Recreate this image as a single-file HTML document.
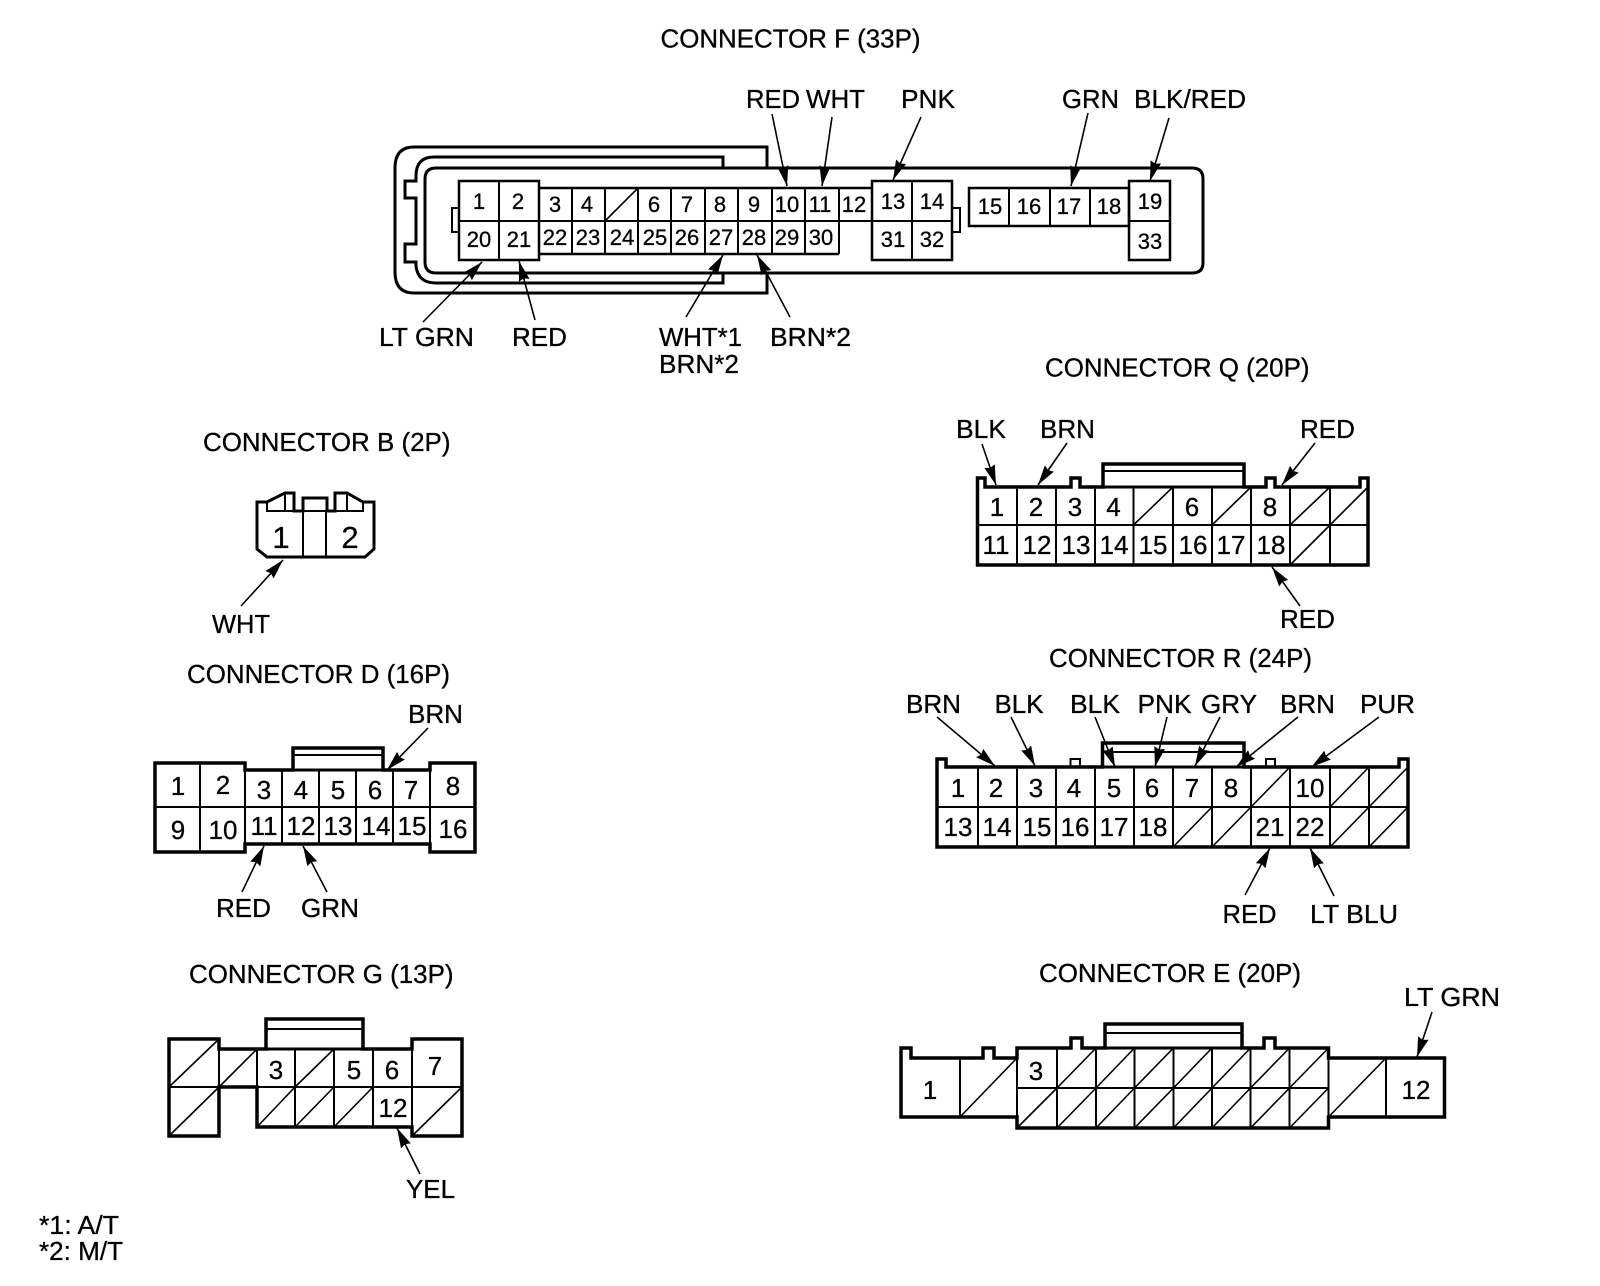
<!DOCTYPE html>
<html><head><meta charset="utf-8"><style>
html,body{margin:0;padding:0;background:#fff}
svg{display:block}
text{font-family:"Liberation Sans",sans-serif;fill:#000;stroke:#000;stroke-width:.3}
.t{font-size:25.5px}
.n{font-size:26px;text-anchor:middle}
.f{font-size:22px;text-anchor:middle}
.o{fill:none;stroke:#000;stroke-width:3.5;stroke-linejoin:miter}
.i{fill:none;stroke:#000;stroke-width:2}
.d{fill:none;stroke:#000;stroke-width:1.6}
.a{fill:none;stroke:#000;stroke-width:1.6;marker-end:url(#ah)}
</style></head><body>
<svg xmlns="http://www.w3.org/2000/svg" width="1600" height="1286" viewBox="0 0 1600 1286">
<defs><marker id="ah" markerUnits="userSpaceOnUse" markerWidth="24" markerHeight="14" refX="20" refY="6" orient="auto"><path d="M0,0.5 L20,6 L0,11.5 L2,6 Z" fill="#000"/></marker></defs>
<rect width="1600" height="1286" fill="#fff"/>

<!-- Titles -->
<text class="t" x="660.5" y="47.5" textLength="260" lengthAdjust="spacingAndGlyphs">CONNECTOR F (33P)</text>
<text class="t" x="1045" y="376.5" textLength="264.5" lengthAdjust="spacingAndGlyphs">CONNECTOR Q (20P)</text>
<text class="t" x="203" y="451" textLength="247.5" lengthAdjust="spacingAndGlyphs">CONNECTOR B (2P)</text>
<text class="t" x="187" y="683" textLength="263" lengthAdjust="spacingAndGlyphs">CONNECTOR D (16P)</text>
<text class="t" x="1049" y="667" textLength="263" lengthAdjust="spacingAndGlyphs">CONNECTOR R (24P)</text>
<text class="t" x="189" y="983" textLength="264.5" lengthAdjust="spacingAndGlyphs">CONNECTOR G (13P)</text>
<text class="t" x="1039" y="982" textLength="262" lengthAdjust="spacingAndGlyphs">CONNECTOR E (20P)</text>

<!-- CONNECTOR F -->
<path class="o" style="stroke-width:3" d="M767,167 V147 H414 Q395,147 395,168 V272 Q395,293 414,293 H767 V274"/>
<path class="o" style="stroke-width:3" d="M723,167 V157 H434 Q416,157 416,176 V181 H405 V198 H416 V244 H405 V262 H416 V266 Q418,283 436,283 H723 V274"/>
<path class="o" style="stroke-width:3" d="M436,168 H1192 Q1203,168 1203,179 V263 Q1203,273 1192,273 H436 Q425,273 425,262 V179 Q425,168 436,168 Z"/>
<path class="i" d="M459,208 H452 V232 H459"/>
<path class="i" d="M952,208 H960 V232 H952"/>
<rect class="i" style="stroke-width:2.5" x="459" y="181" width="80" height="79" fill="#fff"/>
<path class="i" d="M459,221 H872 M499,181 V260 M572,188 V254 M605,188 V254 M638,188 V254 M671,188 V254 M705,188 V254 M738,188 V254 M772,188 V254 M805,188 V254 M839,188 V254"/>
<path class="i" style="stroke-width:2.5" d="M539,188 H872 M539,254 H839"/>
<path class="d" d="M605,221 L638,188"/>
<rect class="i" style="stroke-width:2.5" x="872" y="181" width="80" height="79"/>
<path class="i" d="M872,221 H952 M912,181 V260"/>
<rect class="i" style="stroke-width:2.5" x="969" y="188" width="160" height="38"/>
<path class="i" d="M1009,188 V226 M1050,188 V226 M1090,188 V226"/>
<rect class="i" style="stroke-width:2.5" x="1129" y="181" width="41" height="79"/>
<path class="i" d="M1129,221 H1170"/>

<g class="f">
<text class="f" x="479" y="209">1</text><text class="f" x="518" y="209">2</text>
<text class="f" x="555" y="212">3</text><text class="f" x="587" y="212">4</text>
<text class="f" x="654" y="212">6</text><text class="f" x="687" y="212">7</text>
<text class="f" x="720" y="212">8</text><text class="f" x="754" y="212">9</text>
<text class="f" x="787" y="212">10</text><text class="f" x="820" y="212">11</text>
<text class="f" x="854" y="212">12</text>
<text class="f" x="893" y="209">13</text><text class="f" x="932" y="209">14</text>
<text class="f" x="990" y="214">15</text><text class="f" x="1029" y="214">16</text>
<text class="f" x="1069" y="214">17</text><text class="f" x="1109" y="214">18</text>
<text class="f" x="1150" y="209">19</text>
<text class="f" x="479" y="247">20</text><text class="f" x="519" y="247">21</text>
<text class="f" x="555" y="245">22</text><text class="f" x="588" y="245">23</text>
<text class="f" x="622" y="245">24</text><text class="f" x="655" y="245">25</text>
<text class="f" x="687" y="245">26</text><text class="f" x="721" y="245">27</text>
<text class="f" x="754" y="245">28</text><text class="f" x="787" y="245">29</text>
<text class="f" x="821" y="245">30</text>
<text class="f" x="893" y="247">31</text><text class="f" x="932" y="247">32</text>
<text class="f" x="1150" y="249">33</text>
</g>

<text class="t" x="746" y="108" textLength="54" lengthAdjust="spacingAndGlyphs">RED</text>
<text class="t" x="806" y="108" textLength="59" lengthAdjust="spacingAndGlyphs">WHT</text>
<text class="t" x="901" y="108" textLength="54" lengthAdjust="spacingAndGlyphs">PNK</text>
<text class="t" x="1062" y="108" textLength="57" lengthAdjust="spacingAndGlyphs">GRN</text>
<text class="t" x="1134" y="108" textLength="112" lengthAdjust="spacingAndGlyphs">BLK/RED</text>
<text class="t" x="379" y="346" textLength="95" lengthAdjust="spacingAndGlyphs">LT GRN</text>
<text class="t" x="512" y="346" textLength="55" lengthAdjust="spacingAndGlyphs">RED</text>
<text class="t" x="659" y="346" textLength="83" lengthAdjust="spacingAndGlyphs">WHT*1</text>
<text class="t" x="659" y="373" textLength="80" lengthAdjust="spacingAndGlyphs">BRN*2</text>
<text class="t" x="770" y="346" textLength="81" lengthAdjust="spacingAndGlyphs">BRN*2</text>

<path class="a" d="M772,114 L787,186"/>
<path class="a" d="M832,117 L822,186"/>
<path class="a" d="M921,117 L893,180"/>
<path class="a" d="M1088,113 L1071,186"/>
<path class="a" d="M1169,118 L1150,181"/>
<path class="a" d="M423,322 L482,262"/>
<path class="a" d="M535,320 L519,261"/>
<path class="a" d="M686,317 L723,255"/>
<path class="a" d="M790,317 L757,255"/>

<!-- CONNECTOR Q -->
<path class="o" d="M977.5,565 V478 H985 V487 H1071 V478 H1080 V487 H1103 V464 H1244 V487 H1266 V478 H1275 V487 H1360 V478 H1368 V565 Z"/>
<path class="o" style="stroke-width:3" d="M1103,487 H1244"/>
<path class="i" d="M1103,471 H1244 M977.5,525 H1368 M1017,487 V565 M1056,487 V565 M1095,487 V565 M1133.5,487 V565 M1173,487 V565 M1212,487 V565 M1251,487 V565 M1290,487 V565 M1330,487 V565"/>
<path class="d" d="M1133.5,525 L1173,487 M1212,525 L1251,487 M1290,525 L1330,487 M1330,525 L1368,487 M1290,565 L1330,525"/>
<text class="n" x="997" y="516">1</text><text class="n" x="1036" y="516">2</text><text class="n" x="1075" y="516">3</text><text class="n" x="1113.5" y="516">4</text><text class="n" x="1192" y="516">6</text><text class="n" x="1270" y="516">8</text>
<text class="n" x="996" y="554">11</text><text class="n" x="1037" y="554">12</text><text class="n" x="1076" y="554">13</text><text class="n" x="1114" y="554">14</text><text class="n" x="1153" y="554">15</text><text class="n" x="1193" y="554">16</text><text class="n" x="1231" y="554">17</text><text class="n" x="1271" y="554">18</text>
<text class="t" x="956" y="438" textLength="50" lengthAdjust="spacingAndGlyphs">BLK</text>
<text class="t" x="1040" y="438" textLength="55" lengthAdjust="spacingAndGlyphs">BRN</text>
<text class="t" x="1300" y="438" textLength="55" lengthAdjust="spacingAndGlyphs">RED</text>
<text class="t" x="1280" y="628" textLength="55" lengthAdjust="spacingAndGlyphs">RED</text>
<path class="a" d="M982,444 L996,485"/>
<path class="a" d="M1067,443 L1038,485"/>
<path class="a" d="M1315,443 L1282,485"/>
<path class="a" d="M1300,606 L1272,567"/>

<!-- CONNECTOR B -->
<path class="o" style="stroke-width:3" d="M257,502 H267 L285,493 H294 V511 H303 V498 H327 V511 H335 V493 H347 L363,502 H374 V549 L365,557 H267 L257,549 Z"/>
<path class="i" d="M267,502 V511 H294 M285,493 V511 M347,493 V511 M335,511 H363 V502 M303,511 V557 M326,511 V557 M303,511 H327"/>
<text x="281" y="548" style="font-size:31px;text-anchor:middle">1</text>
<text x="350" y="548" style="font-size:31px;text-anchor:middle">2</text>
<text class="t" x="212" y="633" textLength="58" lengthAdjust="spacingAndGlyphs">WHT</text>
<path class="a" d="M241,606 L283,560"/>

<!-- CONNECTOR D -->
<path class="o" d="M155,763 H245 V770 H293 V748 H383 V770 H430 V763 H475 V852 H430 V844 H245 V852 H155 Z"/>
<path class="o" style="stroke-width:3" d="M293,770 H383"/>
<path class="i" d="M293,755 H383 M155,807 H475 M200,763 V852 M245,770 V844 M282,770 V844 M319,770 V844 M356,770 V844 M393,770 V844 M430,770 V844"/>
<text class="n" x="178" y="795">1</text><text class="n" x="223" y="794">2</text><text class="n" x="264" y="799">3</text><text class="n" x="301" y="799">4</text><text class="n" x="338" y="799">5</text><text class="n" x="375" y="799">6</text><text class="n" x="411" y="799">7</text><text class="n" x="453" y="795">8</text>
<text class="n" x="178" y="839">9</text><text class="n" x="223" y="839">10</text><text class="n" x="264" y="835">11</text><text class="n" x="301" y="835">12</text><text class="n" x="338" y="835">13</text><text class="n" x="376" y="835">14</text><text class="n" x="412" y="835">15</text><text class="n" x="453" y="838">16</text>
<text class="t" x="408" y="723" textLength="55" lengthAdjust="spacingAndGlyphs">BRN</text>
<text class="t" x="216" y="917" textLength="55" lengthAdjust="spacingAndGlyphs">RED</text>
<text class="t" x="301" y="917" textLength="58" lengthAdjust="spacingAndGlyphs">GRN</text>
<path class="a" d="M428,728 L387,770"/>
<path class="a" d="M242,892 L264,846"/>
<path class="a" d="M327,892 L303,846"/>

<!-- CONNECTOR R -->
<path class="o" d="M937,847 V759 H946 V767 H1102.5 V743 H1244 V767 H1399 V759 H1408 V847 Z"/>
<path class="o" style="stroke-width:3" d="M1102.5,767 H1244"/>
<path class="i" d="M1070.5,767 V759 H1080 V767 M1266,767 V759 H1275 V767"/>
<path class="i" d="M1102.5,752 H1244 M937,807 H1408 M978,767 V847 M1017,767 V847 M1056,767 V847 M1095,767 V847 M1134,767 V847 M1173,767 V847 M1212,767 V847 M1251,767 V847 M1290,767 V847 M1330,767 V847 M1369,767 V847"/>
<path class="d" d="M1251,807 L1290,767 M1330,807 L1369,767 M1369,807 L1408,767 M1173,847 L1212,807 M1212,847 L1251,807 M1330,847 L1369,807 M1369,847 L1408,807"/>
<text class="n" x="958" y="797">1</text><text class="n" x="996" y="797">2</text><text class="n" x="1036" y="797">3</text><text class="n" x="1074" y="797">4</text><text class="n" x="1114" y="797">5</text><text class="n" x="1152" y="797">6</text><text class="n" x="1192" y="797">7</text><text class="n" x="1231" y="797">8</text><text class="n" x="1310" y="797">10</text>
<text class="n" x="958" y="836">13</text><text class="n" x="997" y="836">14</text><text class="n" x="1037" y="836">15</text><text class="n" x="1075" y="836">16</text><text class="n" x="1114" y="836">17</text><text class="n" x="1153" y="836">18</text><text class="n" x="1270" y="836">21</text><text class="n" x="1310" y="836">22</text>
<text class="t" x="906" y="713" textLength="55" lengthAdjust="spacingAndGlyphs">BRN</text>
<text class="t" x="994.5" y="713" textLength="49" lengthAdjust="spacingAndGlyphs">BLK</text>
<text class="t" x="1070" y="713" textLength="50" lengthAdjust="spacingAndGlyphs">BLK</text>
<text class="t" x="1137.5" y="713" textLength="54" lengthAdjust="spacingAndGlyphs">PNK</text>
<text class="t" x="1201" y="713" textLength="56" lengthAdjust="spacingAndGlyphs">GRY</text>
<text class="t" x="1280" y="713" textLength="55" lengthAdjust="spacingAndGlyphs">BRN</text>
<text class="t" x="1360" y="713" textLength="55" lengthAdjust="spacingAndGlyphs">PUR</text>
<text class="t" x="1222.5" y="923" textLength="54" lengthAdjust="spacingAndGlyphs">RED</text>
<text class="t" x="1310" y="923" textLength="88" lengthAdjust="spacingAndGlyphs">LT BLU</text>
<path class="a" d="M937,717 L995,766"/>
<path class="a" d="M1011,717 L1035,766"/>
<path class="a" d="M1095,717 L1115,767"/>
<path class="a" d="M1167,717 L1155,767"/>
<path class="a" d="M1220,717 L1195,766"/>
<path class="a" d="M1298,717 L1236,767"/>
<path class="a" d="M1379,717 L1311.5,767"/>
<path class="a" d="M1245,895 L1270,848"/>
<path class="a" d="M1334,896 L1310,848"/>

<!-- CONNECTOR G -->
<path class="o" d="M169,1039 H219 V1049 H266 V1019 H363 V1049 H412 V1039 H462 V1136 H412 V1127 H257 V1087 H219 V1136 H169 Z"/>
<path class="o" style="stroke-width:3" d="M266,1049 H363"/>
<path class="i" d="M266,1029 H363 M169,1087 H462 M219,1049 V1087 M257,1049 V1127 M295,1049 V1127 M334,1049 V1127 M373,1049 V1127 M412,1049 V1127"/>
<path class="d" d="M169,1087 L219,1039 M169,1136 L219,1087 M219,1087 L257,1049 M295,1087 L334,1049 M257,1127 L295,1087 M295,1127 L334,1087 M334,1127 L373,1087 M412,1136 L462,1087"/>
<text class="n" x="276" y="1079">3</text><text class="n" x="354" y="1079">5</text><text class="n" x="392" y="1079">6</text><text class="n" x="435" y="1075">7</text><text class="n" x="393" y="1117">12</text>
<text class="t" x="406" y="1198" textLength="49" lengthAdjust="spacingAndGlyphs">YEL</text>
<path class="a" d="M420,1174 L397,1128"/>

<!-- CONNECTOR E -->
<path class="o" d="M901,1117 V1048 H911 V1058 H983 V1048 H994 V1058 H1017 V1048 H1071 V1038 H1082 V1048 H1105 V1024 H1242 V1048 H1264 V1038 H1275 V1048 H1328.5 V1058 H1444.5 V1117 H1328.5 V1128 H1017 V1117 Z"/>
<path class="o" style="stroke-width:3" d="M1105,1048 H1242"/>
<path class="i" d="M1105,1033 H1242 M960,1058 V1117 M1017,1048 V1128 M1057,1048 V1128 M1096,1048 V1128 M1134.5,1048 V1128 M1173.5,1048 V1128 M1212,1048 V1128 M1250.5,1048 V1128 M1289.5,1048 V1128 M1328.5,1048 V1128 M1386,1058 V1117 M1017,1088 H1328.5"/>
<path class="d" d="M960,1117 L1017,1058 M1328.5,1117 L1386,1058 M1057,1088 L1096,1048 M1096,1088 L1134.5,1048 M1134.5,1088 L1173.5,1048 M1173.5,1088 L1212,1048 M1212,1088 L1250.5,1048 M1250.5,1088 L1289.5,1048 M1289.5,1088 L1328.5,1048 M1017,1128 L1057,1088 M1057,1128 L1096,1088 M1096,1128 L1134.5,1088 M1134.5,1128 L1173.5,1088 M1173.5,1128 L1212,1088 M1212,1128 L1250.5,1088 M1250.5,1128 L1289.5,1088 M1289.5,1128 L1328.5,1088"/>
<text class="n" x="930" y="1099">1</text><text class="n" x="1036" y="1080">3</text><text class="n" x="1416" y="1099">12</text>
<text class="t" x="1404" y="1006" textLength="96" lengthAdjust="spacingAndGlyphs">LT GRN</text>
<path class="a" d="M1432,1012 L1417,1057"/>

<!-- Footnotes -->
<text class="t" x="39" y="1234" textLength="80" lengthAdjust="spacingAndGlyphs">*1: A/T</text>
<text class="t" x="39" y="1260" textLength="84" lengthAdjust="spacingAndGlyphs">*2: M/T</text>
</svg>
</body></html>
